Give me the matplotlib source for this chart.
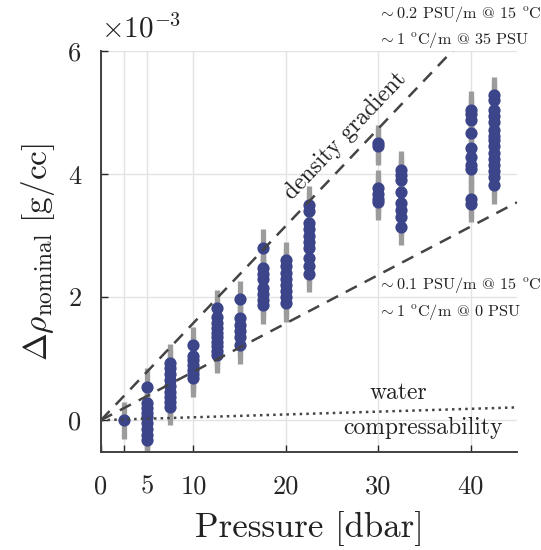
import matplotlib
matplotlib.use("Agg")
import matplotlib.pyplot as plt
import numpy as np

plt.rcParams['mathtext.fontset'] = 'cm'
plt.rcParams['font.family'] = 'serif'
plt.rcParams['font.serif'] = ['cmr10', 'DejaVu Serif']
plt.rcParams['axes.unicode_minus'] = False
plt.rcParams['axes.formatter.use_mathtext'] = True

# Pressure levels [dbar] and density anomalies (units of 1e-3 g/cc)
p_levels = [2.5, 5, 7.5, 10, 12.5, 15, 17.5, 20, 22.5, 30, 32.5, 40, 42.5]
drho = [
    [0.0],
    [0.54, 0.28, 0.2, 0.12, 0.05, -0.05, -0.15, -0.25, -0.32],
    [0.93, 0.85, 0.75, 0.65, 0.55, 0.45, 0.38, 0.3, 0.22],
    [1.22, 1.05, 0.98, 0.9, 0.82, 0.75, 0.68],
    [1.82, 1.67, 1.58, 1.5, 1.42, 1.35, 1.27, 1.2, 1.12, 1.06],
    [1.97, 1.66, 1.55, 1.45, 1.35, 1.22],
    [2.8, 2.48, 2.38, 2.3, 2.15, 2.05, 1.95, 1.87],
    [2.6, 2.5, 2.4, 2.3, 2.2, 2.1, 2.0, 1.9],
    [3.5, 3.4, 3.2, 3.1, 3.0, 2.9, 2.8, 2.63, 2.5, 2.38],
    [4.5, 4.45, 3.77, 3.68, 3.6, 3.55],
    [4.07, 3.98, 3.9, 3.71, 3.53, 3.41, 3.3, 3.14],
    [5.05, 4.97, 4.88, 4.67, 4.42, 4.28, 4.15, 4.08, 3.6, 3.52],
    [5.28, 5.2, 5.05, 4.95, 4.85, 4.72, 4.62, 4.55, 4.45, 4.35, 4.25, 4.15, 4.05, 3.95, 3.82],
]
err = 0.3  # 1e-3 g/cc

# reference slopes (1e-3 g/cc per dbar)
slope_high = 0.158
slope_low = 0.0787
slope_comp = 0.0046
line_p = [0, 45]

xticks = [0, 2.5, 5, 10, 20, 30, 40]
xticklabels = ['0', '', '5', '10', '20', '30', '40']
yticks = [0, 2, 4, 6]
yticklabels = ['0', '2', '4', '6']

fig = plt.figure(figsize=(5.41, 5.50), dpi=100)
ax = fig.add_axes([0.1867, 0.178, 0.9556 - 0.1867, 0.907 - 0.178])

ax.grid(True, color='#e3e3e3', linewidth=1.0, zorder=0)
ax.set_axisbelow(True)

dot_color = '#3c458a'
for p, vals in zip(p_levels, drho):
    xs = [p] * len(vals)
    ax.errorbar(xs, vals, yerr=err, fmt='none', ecolor='#9c9c9c',
                elinewidth=3.8, capsize=0, zorder=2)
for p, vals in zip(p_levels, drho):
    xs = [p] * len(vals)
    ax.plot(xs, vals, 'o', color=dot_color, markersize=8.8,
            markeredgewidth=0, zorder=3)

lx = np.array(line_p, dtype=float)
ax.plot(lx, slope_high * lx, '--', color='#444444', lw=1.8, dashes=(5, 3.5), zorder=4)
ax.plot(lx, slope_low * lx, '--', color='#444444', lw=1.8, dashes=(5, 3.5), zorder=4)
ax.plot(lx, slope_comp * lx, ':', color='#444444', lw=1.8, zorder=4)

ax.set_xlim(0, 45)
ax.set_ylim(-0.52, 6)
ax.set_xticks(xticks)
ax.set_xticklabels(xticklabels)
ax.set_yticks(yticks)
ax.set_yticklabels(yticklabels)
ax.tick_params(direction='in', length=5, width=1, labelsize=19, pad=14, colors='#262626')
ax.tick_params(axis='x', pad=16)
for s in ['top', 'right']:
    ax.spines[s].set_visible(False)
for s in ['left', 'bottom']:
    ax.spines[s].set_color('#404040')
    ax.spines[s].set_linewidth(1.4)

ax.set_xlabel('Pressure [dbar]', fontsize=25, labelpad=9, color='#222222')
ax.set_ylabel(r'$\Delta\rho_{\mathrm{nominal}}\ \mathrm{[g/cc]}$', fontsize=24,
              labelpad=8, color='#222222')

ax.text(0.0, 6.12, r'$\times10^{\mathrm{-3}}$', fontsize=21, ha='left', va='bottom',
        color='#222222', clip_on=False)

tkw = dict(fontsize=11.7, ha='left', va='center', color='#222222', clip_on=False)
ax.text(30.0, 6.6, r'$\sim$0.2 PSU/m @ 15 $^{\rm o}$C', **tkw)
ax.text(30.0, 6.18, r'$\sim$1 $^{\rm o}$C/m @ 35 PSU', **tkw)
ax.text(30.0, 2.2, r'$\sim$0.1 PSU/m @ 15 $^{\rm o}$C', **tkw)
ax.text(30.0, 1.76, r'$\sim$1 $^{\rm o}$C/m @ 0 PSU', **tkw)

ax.text(32.2, 0.44, 'water', fontsize=17, ha='center', va='center', color='#222222')
ax.text(34.8, -0.12, 'compressability', fontsize=17, ha='center', va='center',
        color='#222222')
ax.text(26.4, 4.63, 'density gradient', fontsize=17, ha='center', va='center',
        rotation=46.5, color='#222222')

fig.savefig('out.png', dpi=100)
